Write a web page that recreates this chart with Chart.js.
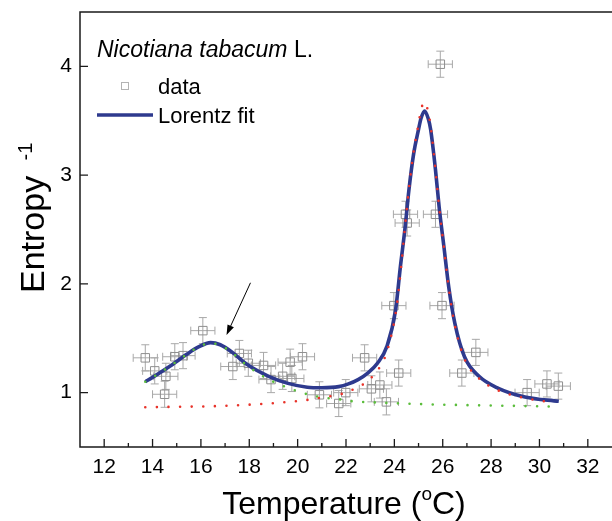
<!DOCTYPE html>
<html lang="en">
<head>
<meta charset="UTF-8">
<title>Nicotiana tabacum - entropy</title>
<script src="https://cdn.jsdelivr.net/npm/chart.js"></script>
<style>
  html, body { margin: 0; padding: 0; background: #fff; }
  #wrap { width: 612px; height: 521px; }
</style>
</head>
<body>
<div id="wrap"><canvas id="entropyChart"></canvas></div>
<script>
const tempData = [13.70, 14.09, 14.50, 14.55, 14.92, 15.26, 16.08, 17.32, 17.59, 17.96, 18.59, 18.90, 19.38, 19.69, 19.76, 20.20, 20.90, 21.70, 21.99, 22.77, 23.05, 23.40, 23.67, 23.98, 24.18, 24.46, 24.53, 25.70, 25.90, 25.97, 26.79, 27.37, 29.49, 30.31, 30.78];
const entropyData = [1.32, 1.20, 0.985, 1.15, 1.33, 1.34, 1.57, 1.24, 1.36, 1.27, 1.25, 1.12, 1.15, 1.28, 1.13, 1.33, 0.98, 0.90, 1.00, 1.32, 1.035, 1.07, 0.915, 1.80, 1.18, 2.64, 2.56, 2.64, 4.02, 1.80, 1.18, 1.37, 1.00, 1.08, 1.06];
const tempErr = 0.5;
const entropyErr = 0.12;

// Lorentz fit (solid blue)
const fitTemp = [13.7, 14.0, 14.7, 15.4, 15.9, 16.4, 16.8, 17.3, 17.9, 18.8, 19.6, 20.4, 21.0, 21.7, 22.1, 22.5, 22.9, 23.3, 23.7, 24.05, 24.25, 24.45, 24.6, 24.8, 25.0, 25.1, 25.25, 25.4, 25.5, 25.7, 25.85, 26.05, 26.25, 26.5, 26.9, 27.5, 28.3, 29.4, 30.8];
const fitEntropy = [1.10, 1.14, 1.24, 1.35, 1.42, 1.46, 1.44, 1.37, 1.26, 1.15, 1.085, 1.05, 1.045, 1.055, 1.08, 1.12, 1.18, 1.27, 1.43, 1.76, 2.16, 2.53, 2.86, 3.20, 3.42, 3.52, 3.59, 3.52, 3.42, 3.05, 2.71, 2.34, 1.97, 1.64, 1.33, 1.15, 1.04, 0.96, 0.92];

// main peak component (red dots)
const peak2Temp = [13.7, 15.0, 16.5, 17.6, 18.8, 20.3, 21.0, 21.85, 22.3, 22.8, 23.25, 23.6, 23.9, 24.1, 24.3, 24.45, 24.6, 24.8, 25.0, 25.1, 25.25, 25.4, 25.5, 25.7, 25.85, 26.05, 26.25, 26.5, 26.9, 27.5, 28.3, 29.4, 30.5];
const peak2Entropy = [0.865, 0.87, 0.875, 0.885, 0.90, 0.93, 0.955, 0.99, 1.03, 1.09, 1.19, 1.32, 1.55, 1.80, 2.20, 2.55, 2.87, 3.22, 3.47, 3.60, 3.67, 3.58, 3.45, 3.05, 2.71, 2.33, 1.96, 1.62, 1.31, 1.13, 1.02, 0.95, 0.91];

// small peak component (green dots)
const peak1Temp = [13.7, 14.0, 14.7, 15.4, 15.9, 16.4, 16.8, 17.3, 17.9, 18.5, 19.0, 19.9, 20.4, 20.9, 21.85, 22.3, 23.2, 25.0, 27.0, 29.0, 30.4];
const peak1Entropy = [1.10, 1.14, 1.24, 1.35, 1.42, 1.455, 1.435, 1.365, 1.25, 1.16, 1.10, 1.02, 0.985, 0.96, 0.935, 0.92, 0.91, 0.895, 0.885, 0.878, 0.872];

// arrow pointing at the small peak (data coords)
const arrowFrom = [18.05, 2.01];
const arrowTo = [17.06, 1.53];

const xRange = [11, 33];
const yRange = [0.5, 4.5];
const xTicks = [12, 14, 16, 18, 20, 22, 24, 26, 28, 30, 32];
const yTicks = [1, 2, 3, 4];

const FONT = '"Liberation Sans", Arial, sans-serif';
const BLUE = '#2e3a8e';

const pts = (xs, ys) => xs.map((v, i) => ({ x: v, y: ys[i] }));

const extras = {
    id: 'extras',
    beforeDatasetsDraw(chart) {
        const { ctx, scales: { x, y } } = chart;
        ctx.save();
        ctx.strokeStyle = '#a8a8a8';
        ctx.lineWidth = 1;
        ctx.beginPath();
        tempData.forEach((t, i) => {
            const e = entropyData[i];
            const px = x.getPixelForValue(t), py = y.getPixelForValue(e);
            const x0 = x.getPixelForValue(t - tempErr), x1 = x.getPixelForValue(t + tempErr);
            const y0 = y.getPixelForValue(e - entropyErr), y1 = y.getPixelForValue(e + entropyErr);
            ctx.moveTo(x0, py); ctx.lineTo(x1, py);
            ctx.moveTo(x0, py - 4); ctx.lineTo(x0, py + 4);
            ctx.moveTo(x1, py - 4); ctx.lineTo(x1, py + 4);
            ctx.moveTo(px, y0); ctx.lineTo(px, y1);
            ctx.moveTo(px - 4, y0); ctx.lineTo(px + 4, y0);
            ctx.moveTo(px - 4, y1); ctx.lineTo(px + 4, y1);
        });
        ctx.stroke();
        ctx.restore();
    },
    afterDraw(chart) {
        const { ctx, chartArea: a, scales: { x, y } } = chart;
        ctx.save();

        // frame (left, top, bottom)
        ctx.strokeStyle = '#1a1a1a';
        ctx.lineWidth = 1.5;
        ctx.beginPath();
        ctx.moveTo(a.right, a.top); ctx.lineTo(a.left, a.top);
        ctx.lineTo(a.left, a.bottom); ctx.lineTo(a.right, a.bottom);
        ctx.stroke();

        // inward ticks
        ctx.lineWidth = 1.3;
        ctx.beginPath();
        x.ticks.forEach(t => {
            const px = x.getPixelForValue(t.value);
            ctx.moveTo(px, a.bottom); ctx.lineTo(px, a.bottom - 8);
        });
        for (let v = xRange[0] + 2; v < xRange[1]; v += 2) {
            const px = x.getPixelForValue(v);
            ctx.moveTo(px, a.bottom); ctx.lineTo(px, a.bottom - 4);
        }
        y.ticks.forEach(t => {
            const py = y.getPixelForValue(t.value);
            ctx.moveTo(a.left, py); ctx.lineTo(a.left + 8, py);
        });
        ctx.stroke();

        // arrow
        const ax0 = x.getPixelForValue(arrowFrom[0]), ay0 = y.getPixelForValue(arrowFrom[1]);
        const ax1 = x.getPixelForValue(arrowTo[0]), ay1 = y.getPixelForValue(arrowTo[1]);
        const ang = Math.atan2(ay1 - ay0, ax1 - ax0);
        ctx.strokeStyle = '#000';
        ctx.fillStyle = '#000';
        ctx.lineWidth = 1;
        ctx.beginPath();
        ctx.moveTo(ax0, ay0);
        ctx.lineTo(ax1 - 6 * Math.cos(ang), ay1 - 6 * Math.sin(ang));
        ctx.stroke();
        ctx.beginPath();
        ctx.moveTo(ax1, ay1);
        ctx.lineTo(ax1 - 10 * Math.cos(ang) + 3.5 * Math.sin(ang), ay1 - 10 * Math.sin(ang) - 3.5 * Math.cos(ang));
        ctx.lineTo(ax1 - 10 * Math.cos(ang) - 3.5 * Math.sin(ang), ay1 - 10 * Math.sin(ang) + 3.5 * Math.cos(ang));
        ctx.closePath();
        ctx.fill();

        // legend
        ctx.fillStyle = '#000';
        ctx.textBaseline = 'alphabetic';
        ctx.textAlign = 'left';
        ctx.font = 'italic 23px ' + FONT;
        const species = 'Nicotiana tabacum';
        ctx.fillText(species, 97, 57);
        const sw = ctx.measureText(species + ' ').width;
        ctx.font = '23px ' + FONT;
        ctx.fillText('L.', 97 + sw, 57);

        ctx.font = '22px ' + FONT;
        ctx.fillText('data', 158, 94);
        ctx.strokeStyle = '#b3b3b3';
        ctx.lineWidth = 1;
        ctx.strokeRect(121.5, 82.5, 7, 7);

        ctx.fillText('Lorentz fit', 158, 123);
        ctx.strokeStyle = BLUE;
        ctx.lineWidth = 3.5;
        ctx.beginPath();
        ctx.moveTo(97, 115); ctx.lineTo(153, 115);
        ctx.stroke();

        // x title with superscript
        ctx.font = '32px ' + FONT;
        const p1 = 'Temperature (', p3 = 'C)';
        const w1 = ctx.measureText(p1).width, w3 = ctx.measureText(p3).width;
        ctx.font = '19px ' + FONT;
        const w2 = ctx.measureText('o').width;
        let tx = 344 - (w1 + w2 + w3) / 2;
        ctx.font = '32px ' + FONT;
        ctx.fillText(p1, tx, 514);
        ctx.font = '19px ' + FONT;
        ctx.fillText('o', tx + w1, 500);
        ctx.font = '32px ' + FONT;
        ctx.fillText(p3, tx + w1 + w2, 514);

        // y title, rotated
        ctx.translate(44, 293);
        ctx.rotate(-Math.PI / 2);
        ctx.font = '34px ' + FONT;
        ctx.fillText('Entropy', 0, 0);
        const ew = ctx.measureText('Entropy ').width;
        ctx.font = '20px ' + FONT;
        ctx.fillText('-1', ew + 6, -12);

        ctx.restore();
    }
};

const ctx = document.getElementById('entropyChart').getContext('2d');

new Chart(ctx, {
    type: 'scatter',
    data: {
        datasets: [
            {
                label: 'peak 2',
                type: 'line',
                data: pts(peak2Temp, peak2Entropy),
                borderColor: '#e8332a',
                borderWidth: 2.6,
                borderDash: [0, 11.6],
                borderCapStyle: 'round',
                pointRadius: 0,
                cubicInterpolationMode: 'monotone',
                fill: false,
                order: 0
            },
            {
                label: 'peak 1',
                type: 'line',
                data: pts(peak1Temp, peak1Entropy),
                borderColor: '#5bbd3c',
                borderWidth: 2.6,
                borderDash: [0, 11.6],
                borderCapStyle: 'round',
                pointRadius: 0,
                cubicInterpolationMode: 'monotone',
                fill: false,
                order: 0
            },
            {
                label: 'Lorentz fit',
                type: 'line',
                data: pts(fitTemp, fitEntropy),
                borderColor: BLUE,
                borderWidth: 3.6,
                pointRadius: 0,
                cubicInterpolationMode: 'monotone',
                fill: false,
                order: 1
            },
            {
                label: 'data',
                data: pts(tempData, entropyData),
                pointStyle: 'rect',
                pointRadius: 6,
                pointBorderWidth: 1,
                borderColor: '#8f8f8f',
                backgroundColor: 'rgba(255,255,255,0)',
                order: 3
            }
        ]
    },
    options: {
        responsive: true,
        maintainAspectRatio: false,
        animation: false,
        devicePixelRatio: 1,
        layout: { autoPadding: false, padding: { top: 12, right: 0, left: 0, bottom: 0 } },
        plugins: {
            legend: { display: false },
            tooltip: { enabled: false }
        },
        scales: {
            x: {
                type: 'linear',
                min: xRange[0],
                max: xRange[1],
                grid: { display: false, drawTicks: false },
                border: { display: false },
                afterBuildTicks: s => { s.ticks = xTicks.map(v => ({ value: v })); },
                ticks: {
                    padding: 8,
                    color: '#000',
                    maxRotation: 0,
                    autoSkip: false,
                    font: { family: FONT, size: 21 }
                },
                afterFit: s => { s.height = 74; s.paddingLeft = 0; s.paddingRight = 0; }
            },
            y: {
                type: 'linear',
                min: yRange[0],
                max: yRange[1],
                grid: { display: false, drawTicks: false },
                border: { display: false },
                afterBuildTicks: s => { s.ticks = yTicks.map(v => ({ value: v })); },
                ticks: {
                    padding: 8,
                    color: '#000',
                    autoSkip: false,
                    font: { family: FONT, size: 21 }
                },
                afterFit: s => { s.width = 80; s.paddingTop = 0; s.paddingBottom = 0; }
            }
        }
    },
    plugins: [extras]
});
</script>
</body>
</html>
